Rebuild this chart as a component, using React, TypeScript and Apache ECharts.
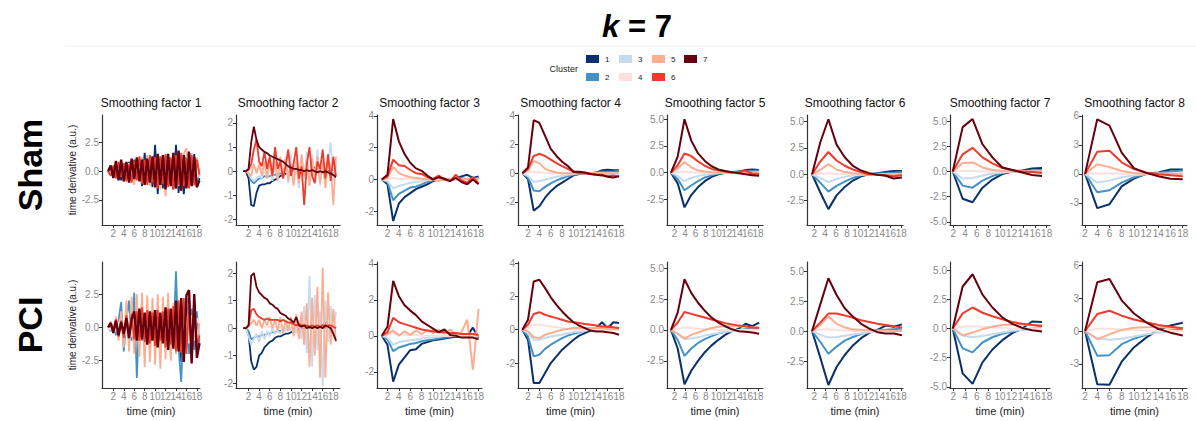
import React, { useEffect, useRef } from 'react';
import * as echarts from 'echarts';

// ---------------- data ----------------
const CLUSTERS = ['1', '2', '3', '4', '5', '6', '7'];
const COLORS = ['#08306b', '#4292c6', '#c6dbef', '#fde0dd', '#fcae91', '#ef3b2c', '#67000d'];
const ROW_NAMES = ['Sham', 'PCI'];
const PANEL_TITLES = [
  'Smoothing factor 1', 'Smoothing factor 2', 'Smoothing factor 3', 'Smoothing factor 4',
  'Smoothing factor 5', 'Smoothing factor 6', 'Smoothing factor 7', 'Smoothing factor 8',
];
const X_TICKS = [2, 4, 6, 8, 10, 12, 14, 16, 18];
const Y_TICKS = [
  [-2.5, 0, 2.5],
  [-2, -1, 0, 1, 2],
  [-2, 0, 2, 4],
  [-2, 0, 2, 4],
  [-2.5, 0, 2.5, 5],
  [-2.5, 0, 2.5, 5],
  [-5, -2.5, 0, 2.5, 5],
  [-3, 0, 3, 6],
];
const Y_TICK_DECIMALS = [1, 0, 0, 0, 1, 1, 1, 0];

// time points (min) for each smoothing factor
const X_SF1 = [1, 1.5, 2, 2.5, 3, 3.5, 4, 4.5, 5, 5.5, 6, 6.5, 7, 7.5, 8, 8.5, 9, 9.5, 10, 10.5, 11, 11.5, 12, 12.5, 13, 13.5, 14, 14.5, 15, 15.5, 16, 16.5, 17, 17.5, 18, 18.5];
const X_SF2 = [1, 1.5, 2, 2.5, 3, 3.5, 4, 4.5, 5, 5.5, 6, 6.5, 7, 7.5, 8, 8.5, 9, 9.5, 10, 10.5, 11, 11.5, 12, 12.5, 13, 13.5, 14, 14.5, 15, 15.5, 16, 16.5, 17, 17.5, 18, 18.5];
const X_SF3 = [1, 2, 3, 4, 5, 6, 7, 8, 9, 10, 11, 12, 13, 14, 15, 16, 17, 18];
const X_SF4 = [1, 2, 3, 4, 5, 6, 7, 8, 9, 10, 11, 12, 13, 14, 15, 16, 17, 18];
const X_SF5 = [1.3, 2.6, 3.9, 5.2, 6.5, 7.8, 9.1, 10.4, 11.7, 13, 14.3, 15.6, 16.9, 18.2];
const X_SF6 = [1.6, 3.1, 4.6, 6.1, 7.6, 9.1, 10.6, 12.1, 13.6, 15.1, 16.6, 18.1];
const X_SF7 = [1.9, 3.6, 5.3, 7, 8.7, 10.4, 12.1, 13.8, 15.5, 17.2];
const X_SF8 = [2, 4, 6, 8, 10, 12, 14, 16, 18];

// Sham: one row per cluster 1..7
const SHAM_SF1 = [
  [0, -0.3, 0.4, -0.6, 0.5, -0.8, 0.6, -0.7, 0.8, -0.9, 1.0, -0.6, 1.1, -1.3, 1.6, -1.0, 0.9, -1.4, 2.3, -2.0, 1.2, -1.5, 1.3, -1.2, 0.8, -1.6, 2.3, -1.9, 1.0, -2.0, 1.2, 1.7, -1.0, 1.5, -1.4, -0.6],
  [0, 0.2, -0.3, 0.3, -0.5, 0.4, -0.6, 0.5, -0.4, 0.7, -0.8, 0.6, -0.7, 0.8, -1.0, 0.9, -0.8, 1.0, -1.1, 0.8, -1.3, 1.0, -0.9, 1.1, -1.2, 0.9, -1.0, 1.2, -1.1, 0.8, -1.3, 1.0, -0.9, 1.1, -1.0, 0.2],
  [0, -0.2, 0.3, -0.4, 0.4, -0.5, 0.6, -0.4, 0.7, -0.6, 0.5, -0.8, 0.9, -0.7, 0.8, -1.0, 1.1, -0.9, 0.7, -1.2, 1.0, -0.8, 1.3, -1.1, 0.9, -1.0, 1.2, -1.3, 1.1, -0.9, 1.0, -1.2, 1.3, -0.8, 0.9, -0.5],
  [0, 0.3, -0.2, 0.4, -0.5, 0.3, -0.4, 0.6, -0.5, 0.4, -0.7, 0.6, -0.5, 0.7, -0.8, 0.6, -0.9, 0.8, -0.6, 0.9, -1.0, 0.7, -0.8, 1.0, -0.9, 0.8, -1.1, 0.9, -0.7, 1.0, -0.9, 0.8, -1.0, 0.7, -0.6, 0.3],
  [0, 0.4, -0.5, 0.6, -0.7, 0.5, -0.9, 0.8, -1.0, 0.7, -1.2, 1.0, -0.8, 1.2, -1.1, 1.4, -1.3, 1.1, -1.5, 1.3, -1.6, 1.2, -2.2, 1.4, -1.3, 1.6, -1.5, 1.3, -1.7, 1.5, 2.0, -1.4, 1.6, -1.3, 1.2, -0.4],
  [0, -0.4, 0.5, -0.6, 0.8, -0.5, 0.7, -0.9, 0.6, -1.0, 0.9, -0.8, 1.3, -1.1, 1.0, -1.2, 1.4, -1.0, 1.2, -1.5, 1.3, -1.1, 1.5, -1.4, 1.2, -1.6, 1.4, -1.2, 1.6, -1.3, 1.1, -1.5, 1.4, -1.2, 1.0, -0.3],
  [0, 0.5, -0.6, 0.9, -0.8, 1.0, -0.9, 0.8, -1.0, 1.1, -0.7, 1.2, -0.9, 1.0, -1.2, 1.1, -1.0, 1.3, -1.4, 1.5, -1.2, 1.4, -1.6, 1.5, -1.3, 1.6, -1.5, 1.8, -1.7, 1.4, -1.5, 1.6, -1.3, 1.2, -1.4, -0.8],
];
const SHAM_SF2 = [
  [0, 0, -0.3, -1.4, -1.45, -0.9, -0.6, -0.55, -0.55, -0.5, -0.5, -0.4, -0.35, -0.3, -0.2, -0.15, -0.1, -0.05, 0, 0, 0, 0, 0, 0, 0, 0.05, 0.1, 0.15, 0.1, 0.05, 0, 0, 0, -0.05, -0.1, -0.1],
  [0, 0, -0.1, -0.4, -0.5, -0.4, -0.3, -0.3, -0.2, -0.25, -0.2, -0.15, -0.15, -0.1, -0.1, -0.05, 0, -0.05, 0, 0.05, 0, 0, 0.05, 0, -0.05, 0, 0.05, 0, 0, 0.05, 0, -0.05, 0, 0, 0.05, 0],
  [0, 0, -0.1, -0.3, -0.4, -0.3, -0.2, -0.3, 0.1, -0.3, 0.2, -0.4, 0.3, -0.3, 0.5, -0.2, 0.6, -0.5, 0.7, -0.4, 0.5, -0.7, 0.6, -0.3, 0.8, -0.6, 0.7, -0.4, 0.9, -0.6, 0.5, -0.5, 0.3, 1.2, -0.4, 0.2],
  [0, 0, 0, 0.1, 0.2, 0.1, 0.05, 0.1, 0, 0.1, -0.05, 0.05, 0.1, -0.05, 0.05, 0.1, -0.05, 0.05, 0.1, -0.1, 0.05, 0.1, -0.05, 0.1, -0.1, 0.05, 0.1, -0.05, 0.1, -0.1, 0.05, 0.1, -0.1, 0.05, 0.1, 0],
  [0, 0, -0.1, -0.2, 0.3, -0.1, 0.3, -0.2, 0.4, -0.3, 0.5, -0.2, 0.4, -0.4, 0.6, -0.3, 0.5, -0.4, 0.3, -0.6, 0.4, -0.5, 0.7, -0.2, 0.4, -0.6, 0.5, -0.3, 0.6, -0.5, 0.4, -0.7, 0.5, 0.2, -1.4, 0.6],
  [0, 0, 0.05, 0.3, 0.9, 1.3, 0.4, 0.2, 0.8, 0.1, 0.6, -0.2, 1.0, 0.1, 0.4, -0.3, 0.2, 0.9, -0.2, 0.3, 1.0, -0.3, 0.2, -1.4, 0.3, 1.0, -0.2, -0.5, 0.4, 0.1, 0.9, -0.3, 0.7, -0.4, 0.6, -0.2],
  [0, 0, 0.1, 1.2, 1.85, 1.3, 1.0, 0.9, 0.8, 0.75, 0.65, 0.6, 0.55, 0.5, 0.45, 0.4, 0.3, 0.2, 0.15, 0.1, 0.1, 0.05, 0.05, 0, 0.05, 0, 0.05, 0, -0.05, 0, -0.05, 0, -0.05, -0.1, -0.15, -0.25],
];
const SHAM_SF3 = [
  [0, -0.3, -2.6, -1.5, -1.1, -0.85, -0.6, -0.45, -0.3, -0.1, 0, 0.05, 0, 0.1, 0.2, 0.3, 0.1, 0.2],
  [0, -0.15, -1.3, -0.9, -0.7, -0.5, -0.45, -0.3, -0.15, -0.05, 0, 0, 0.05, 0, 0.1, 0, 0.05, 0.1],
  [0, -0.1, -0.55, -0.4, -0.3, -0.2, -0.15, -0.1, -0.05, 0, 0, 0, 0, 0, 0, 0.05, 0, 0],
  [0, 0.02, 0.1, 0.05, 0.05, 0.02, 0, 0, 0, 0, 0, 0, 0, 0, 0, 0, 0, 0],
  [0, 0.1, 0.8, 0.4, 0.25, 0.15, 0.1, 0.05, 0, 0, -0.1, 0.05, 0, 0.1, 0, 0.05, 0, 0],
  [0, 0.2, 1.25, 0.9, 0.85, 0.6, 0.4, 0.35, 0.15, 0.05, 0.25, 0, -0.1, 0.3, -0.05, -0.2, 0.15, -0.25],
  [0, 0.3, 3.8, 2.4, 1.6, 1.05, 0.7, 0.55, 0.25, 0, 0.15, 0.05, -0.1, 0.1, -0.15, -0.3, 0, -0.3],
];
const SHAM_SF4 = [
  [0, -0.4, -2.6, -2.3, -1.7, -1.25, -0.9, -0.65, -0.4, -0.15, -0.05, 0, 0, 0.05, 0.2, 0.25, 0.2, 0.2],
  [0, -0.3, -1.2, -1.25, -0.95, -0.7, -0.5, -0.35, -0.2, -0.1, -0.05, 0, 0, 0.05, 0.1, 0.1, 0.1, 0.15],
  [0, -0.2, -0.6, -0.55, -0.45, -0.35, -0.25, -0.2, -0.1, -0.05, 0, 0, 0, 0, 0, 0, 0, 0],
  [0, 0.05, 0.1, 0.05, 0.02, 0, 0, 0, 0, 0, 0, 0, 0, 0, 0, 0, 0, 0],
  [0, 0.2, 0.85, 0.7, 0.3, 0.15, 0.05, 0, 0, 0, 0, 0, 0, 0, 0, 0, 0, 0],
  [0, 0.3, 1.2, 1.35, 1.2, 0.95, 0.7, 0.5, 0.3, 0.1, 0, 0, -0.05, -0.1, -0.1, -0.2, -0.15, -0.25],
  [0, 0.4, 3.7, 3.5, 2.6, 1.7, 1.2, 0.8, 0.5, 0.1, 0.1, 0.05, -0.05, -0.1, -0.15, -0.25, -0.3, -0.2],
];
const SHAM_SF5 = [
  [0, -1.0, -3.25, -2.1, -1.35, -0.8, -0.4, -0.15, 0, 0.05, 0.1, 0.25, 0.3, 0.25],
  [0, -0.6, -1.65, -1.2, -0.8, -0.45, -0.25, -0.05, 0, 0.05, 0.1, 0.15, 0.15, 0.2],
  [0, -0.3, -0.8, -0.5, -0.3, -0.2, -0.1, -0.05, 0, 0, 0, 0, 0, 0],
  [0, 0.05, 0.1, 0.05, 0, 0, 0, 0, 0, 0, 0, 0, 0, 0],
  [0, 0.4, 1.0, 0.5, 0.2, 0.1, 0.05, 0, 0, 0, 0, 0, 0, 0],
  [0, 0.7, 1.8, 1.55, 1.05, 0.65, 0.35, 0.2, 0.1, 0, 0.05, 0.2, -0.1, -0.15],
  [0, 1.5, 5.0, 3.0, 1.8, 1.1, 0.6, 0.3, 0.15, 0.05, -0.05, -0.15, -0.25, -0.3],
];
const SHAM_SF6 = [
  [0, -1.7, -3.3, -2.0, -1.2, -0.6, -0.2, 0, 0.1, 0.2, 0.3, 0.3],
  [0, -0.8, -1.65, -1.1, -0.7, -0.35, -0.1, 0, 0.05, 0.1, 0.15, 0.2],
  [0, -0.35, -0.75, -0.45, -0.25, -0.1, -0.05, 0, 0, 0, 0, 0],
  [0, 0.05, 0.1, 0.05, 0, 0, 0, 0, 0, 0, 0, 0],
  [0, 0.4, 0.95, 0.45, 0.2, 0.1, 0.05, 0, 0, 0, 0, 0],
  [0, 1.2, 2.1, 1.3, 0.8, 0.45, 0.2, 0, -0.05, -0.1, -0.2, -0.1],
  [0, 3.0, 5.2, 2.8, 1.6, 0.8, 0.35, 0.1, -0.05, -0.15, -0.4, -0.3],
];
const SHAM_SF7 = [
  [0, -2.7, -3.05, -1.6, -0.8, -0.25, 0, 0.1, 0.3, 0.35],
  [0, -1.4, -1.6, -0.9, -0.45, -0.15, 0, 0.05, 0.1, 0.15],
  [0, -0.7, -0.65, -0.4, -0.2, -0.1, 0, 0, 0, 0],
  [0, 0.05, 0.05, 0, 0, 0, 0, 0, 0, 0],
  [0, 0.85, 0.9, 0.4, 0.15, 0.05, 0, 0, 0, 0],
  [0, 1.7, 2.35, 1.4, 0.8, 0.35, 0.15, 0, -0.05, -0.15],
  [0, 4.4, 5.2, 2.7, 1.4, 0.4, 0.15, -0.1, -0.35, -0.45],
];
const SHAM_SF8 = [
  [0, -3.55, -3.15, -1.3, -0.5, 0, 0.15, 0.45, 0.45],
  [0, -1.9, -1.7, -0.9, -0.35, -0.05, 0.1, 0.25, 0.35],
  [0, -0.9, -0.7, -0.35, -0.15, -0.05, 0, 0, 0],
  [0, 0.05, 0.05, 0, 0, 0, 0, 0, 0],
  [0, 1.0, 0.7, 0.3, 0.1, 0, 0, 0, 0],
  [0, 2.3, 2.4, 1.2, 0.5, 0.15, -0.05, -0.15, -0.25],
  [0, 5.65, 5.0, 2.2, 0.6, 0.1, -0.25, -0.5, -0.55],
];

// PCI
const PCI_SF1 = [
  [0, 0.2, -0.3, 0.4, -0.5, 0.3, -0.6, 0.5, -0.4, 0.6, -0.7, 0.5, -0.6, 0.8, -0.7, 0.6, -0.9, 0.7, -0.8, 1.0, -0.9, 0.8, -1.1, 1.0, -1.2, 1.3, -1.4, 1.6, -2.6, 1.8, -1.5, 2.2, -2.4, 1.9, -1.6, -0.9],
  [0, -0.3, 0.3, -0.6, 0.5, 1.9, -1.8, 0.6, 2.0, -1.0, 2.6, -3.8, 1.2, -1.0, 0.8, -0.9, 1.1, -0.8, 0.9, -1.2, 1.0, -0.9, 1.3, -1.1, 1.2, -1.0, 4.2, -1.5, -4.1, 1.0, 2.2, -2.0, 1.4, -1.7, 1.2, -1.3],
  [0, 0.2, -0.4, 0.5, -0.6, 0.7, -0.5, 0.8, -0.9, 0.7, -1.0, 0.9, -0.8, 1.1, -1.0, 0.9, -1.2, 1.0, -1.1, 1.3, -1.2, 1.1, -1.4, 1.2, -1.3, 1.5, -1.4, 1.6, -1.5, 1.3, -1.6, 1.4, -1.2, 1.5, -1.3, -0.6],
  [0, -0.2, 0.3, -0.3, 0.4, -0.5, 0.4, -0.6, 0.5, -0.7, 0.6, -0.5, 0.7, -0.8, 0.6, -0.7, 0.9, -0.8, 0.7, -1.0, 0.8, -0.9, 1.0, -0.8, 0.9, -1.1, 1.0, -0.9, 1.1, -1.0, 0.8, -1.2, 0.9, -1.0, 0.7, 0.2],
  [0, 0.3, -0.5, 0.8, -1.0, 1.2, -1.5, 2.0, -1.8, 2.3, -2.0, 2.5, -2.2, 2.6, -3.0, 2.4, -2.6, 2.2, -2.8, 2.5, -3.1, 2.3, -2.4, 2.6, -2.5, 1.8, -2.0, 1.6, -1.8, 1.5, -1.2, 1.4, -1.3, 1.0, -1.1, 0.3],
  [0, 0.4, -0.3, 0.6, -0.7, 0.5, -0.8, 0.9, -0.6, 1.0, -0.9, 1.2, -1.0, 1.5, -1.1, 1.3, -1.2, 1.1, -1.4, 1.3, -1.0, 1.2, -1.5, 1.4, -1.3, 1.6, -1.8, 2.0, -1.9, 2.2, -2.0, 1.8, -2.1, 1.9, -1.5, -0.6],
  [0, 0.3, -0.4, 0.5, -0.6, 0.4, -0.5, 0.7, -0.8, 0.6, 1.2, -1.0, 1.4, -0.9, 1.1, -1.3, 1.2, -1.0, 1.3, -1.5, 1.1, -1.2, 1.5, -1.7, 1.4, -1.6, 2.0, -1.8, 2.2, -2.6, 2.4, 2.8, -2.7, 2.5, -2.3, -1.2],
];
const PCI_SF2 = [
  [0, 0, -0.2, -1.2, -1.5, -1.4, -1.0, -0.9, -0.7, -0.6, -0.5, -0.45, -0.35, -0.3, -0.3, -0.25, -0.2, -0.2, -0.15, -0.1, -0.1, -0.05, 0, 0, 0, 0, 0, 0.05, 0.05, 0.1, 0.1, 0.2, 0.1, 0.05, 0.05, 0],
  [0, 0, -0.1, -0.4, -0.35, -0.3, -0.3, -0.25, -0.25, -0.2, -0.2, -0.15, -0.15, -0.1, -0.1, -0.1, -0.05, -0.05, 0, 0, 0.05, 0, 0, 0.05, 0, 0, 0.05, 0, 0, 0.05, 0, 0, 0.05, 0, 0, 0],
  [0, 0, -0.3, -0.6, -0.4, -0.2, -0.5, -0.1, -0.4, -0.1, -0.3, 0, -0.2, -0.1, -0.2, 0, -0.1, 0.1, -0.1, 0.2, -0.2, 0.3, -0.4, 0.8, -0.9, 1.9, -1.4, 1.2, -0.8, 0.6, -2.1, 1.0, -0.5, 0.8, -0.2, 0.6],
  [0, 0, 0.05, 0.2, 0.15, 0.1, 0.1, 0.1, 0.05, 0.05, 0.05, 0.05, 0.05, 0.05, 0.05, 0.05, 0.05, 0.05, 0.05, 0.05, 0.05, 0.05, 0.05, 0.05, 0.05, 0.05, 0.05, 0.05, 0.05, 0.05, 0.05, 0.05, 0.05, 0.05, 0.05, 0.05],
  [0, 0, 0.05, 0.2, 0.3, 0.1, 0.3, 0, 0.3, 0.1, 0.4, 0, 0.3, -0.1, 0.4, -0.2, 0.3, -0.1, 0.4, -0.3, 0.5, -0.4, 0.6, -0.6, 0.9, -1.4, 1.1, -1.0, 1.5, -1.8, 2.2, -1.8, 1.3, -0.6, 0.7, -0.5],
  [0, 0, 0.1, 0.65, 0.7, 0.5, 0.4, 0.35, 0.3, 0.35, 0.3, 0.3, 0.3, 0.3, 0.25, 0.3, 0.25, 0.2, 0.2, 0.15, 0.1, 0.15, 0.1, 0.1, 0.1, 0.05, 0.1, 0.05, 0.1, 0.05, 0.1, 0.05, 0.1, 0.1, 0.05, 0],
  [0, 0, 0.1, 1.9, 2.0, 1.5, 1.3, 1.2, 1.1, 1.05, 0.9, 0.85, 0.75, 0.7, 0.55, 0.5, 0.45, 0.35, 0.3, 0.2, 0.4, 0.1, 0.05, 0.1, 0, 0.05, 0, 0.05, 0, 0.05, 0, 0.1, 0.05, 0, -0.2, -0.45],
];
const PCI_SF3 = [
  [0, -0.5, -2.55, -1.6, -1.2, -0.8, -0.75, -0.45, -0.35, -0.25, -0.2, -0.15, -0.1, -0.05, -0.05, 0, 0.45, -0.1],
  [0, -0.2, -0.85, -0.65, -0.55, -0.45, -0.4, -0.3, -0.25, -0.2, -0.15, -0.1, -0.05, 0, 0, 0, 0.05, 0],
  [0, -0.1, -0.5, -0.35, -0.3, -0.25, -0.2, -0.15, -0.1, -0.1, -0.05, 0, 0, 0, 0, 0, 0.1, 0],
  [0, 0.05, 0.15, 0.1, 0.05, 0.05, 0.05, 0, 0, 0, 0, 0, 0, 0, 0, 0, 0, 0],
  [0, 0.1, 0.3, 0, 0.25, 0.05, 0.3, 0.1, 0.3, 0.15, 0.35, 0.1, 0.35, 0.1, 0.2, 0.9, -1.9, 1.5],
  [0, 0.2, 1.0, 0.75, 0.65, 0.55, 0.45, 0.35, 0.3, 0.25, 0.2, 0.2, 0.15, 0.15, 0.1, 0.1, 0.1, 0.05],
  [0, 0.5, 3.05, 2.2, 1.7, 1.4, 1.15, 0.8, 0.6, 0.4, 0.2, 0.35, 0.05, 0, -0.1, -0.1, -0.1, -0.2],
];
const PCI_SF4 = [
  [0, -0.6, -3.2, -3.2, -2.6, -2.0, -1.6, -1.2, -0.9, -0.6, -0.35, -0.2, -0.05, 0.1, 0.45, 0.1, 0.45, 0.4],
  [0, -0.4, -1.6, -1.5, -1.15, -0.9, -0.7, -0.5, -0.35, -0.25, -0.15, -0.05, 0, 0, 0.05, 0.1, 0.1, 0.1],
  [0, -0.2, -0.6, -0.6, -0.5, -0.4, -0.35, -0.3, -0.2, -0.15, -0.1, -0.05, 0, 0, 0, 0, 0, 0],
  [0, 0.1, 0.3, 0.3, 0.25, 0.2, 0.15, 0.1, 0.05, 0, 0, 0, 0, 0, 0, 0, 0, 0],
  [0, -0.1, -0.45, -0.5, -0.3, -0.2, -0.1, 0, 0.05, 0.1, 0.1, 0.1, 0.1, 0.1, 0.1, 0.05, 0.05, 0.05],
  [0, 0.3, 0.95, 1.05, 0.9, 0.8, 0.7, 0.6, 0.5, 0.45, 0.4, 0.35, 0.3, 0.25, 0.2, 0.2, 0.15, 0.1],
  [0, 0.6, 2.9, 3.0, 2.5, 1.95, 1.5, 1.1, 0.75, 0.45, 0.25, 0.1, -0.05, -0.1, -0.1, -0.15, -0.2, -0.3],
];
const PCI_SF5 = [
  [0, -1.5, -4.4, -3.3, -2.5, -1.8, -1.25, -0.8, -0.4, -0.1, 0.1, 0.5, 0.3, 0.6],
  [0, -0.8, -2.1, -1.5, -1.05, -0.75, -0.5, -0.3, -0.15, -0.05, 0, 0.05, 0.1, 0.1],
  [0, -0.3, -0.75, -0.7, -0.6, -0.45, -0.35, -0.25, -0.15, -0.1, -0.05, 0, 0, 0],
  [0, 0.1, 0.2, 0.15, 0.1, 0.05, 0.05, 0, 0, 0, 0, 0, 0, 0],
  [0, -0.3, -0.7, -0.4, -0.2, 0, 0.15, 0.25, 0.3, 0.3, 0.3, 0.25, 0.2, 0.2],
  [0, 0.6, 1.45, 1.3, 1.15, 1.0, 0.85, 0.7, 0.55, 0.45, 0.35, 0.3, 0.2, 0.15],
  [0, 1.4, 4.1, 3.0, 2.2, 1.55, 1.0, 0.6, 0.3, 0.05, -0.1, -0.15, -0.2, -0.3],
];
const PCI_SF6 = [
  [0, -2.2, -4.5, -3.0, -2.0, -1.2, -0.6, -0.15, 0.1, 0.45, 0.35, 0.55],
  [0, -0.9, -1.9, -1.3, -0.8, -0.5, -0.25, -0.05, 0.05, 0.1, 0.15, 0.2],
  [0, -0.3, -0.55, -0.5, -0.4, -0.3, -0.2, -0.1, -0.05, 0, 0, 0],
  [0, 0.1, 0.15, 0.1, 0.05, 0, 0, 0, 0, 0, 0, 0],
  [0, 0.5, 1.2, 0.6, 0.3, 0.15, 0.1, 0.05, 0.05, 0.05, 0, 0],
  [0, 0.7, 1.45, 1.45, 1.3, 1.1, 0.9, 0.75, 0.6, 0.5, 0.4, 0.3],
  [0, 2.2, 4.4, 3.0, 1.9, 1.2, 0.6, 0.2, -0.1, -0.2, -0.2, -0.35],
];
const PCI_SF7 = [
  [0, -3.85, -4.75, -2.9, -1.8, -1.0, -0.4, 0, 0.6, 0.55],
  [0, -1.7, -2.05, -1.2, -0.75, -0.45, -0.25, -0.1, 0, 0.05],
  [0, -0.6, -0.75, -0.65, -0.5, -0.35, -0.2, -0.1, -0.05, 0],
  [0, 0.15, 0.2, 0.15, 0.1, 0.05, 0, 0, 0, 0],
  [0, -0.6, -0.35, -0.05, 0.15, 0.3, 0.35, 0.35, 0.3, 0.3],
  [0, 1.3, 1.8, 1.35, 1.05, 0.8, 0.55, 0.4, 0.3, 0.2],
  [0, 3.6, 4.65, 2.9, 1.8, 0.95, 0.4, 0.05, -0.15, -0.25],
];
const PCI_SF8 = [
  [0, -4.85, -4.9, -2.8, -1.5, -0.6, 0.1, 0.5, 0.75],
  [0, -2.25, -2.2, -1.2, -0.7, -0.35, -0.1, 0.05, 0.15],
  [0, -0.65, -0.8, -0.7, -0.5, -0.3, -0.15, -0.05, 0],
  [0, 0.2, 0.2, 0.15, 0.1, 0.05, 0, 0, 0],
  [0, -0.75, -0.3, 0.1, 0.3, 0.35, 0.35, 0.3, 0.25],
  [0, 1.55, 1.85, 1.4, 1.05, 0.8, 0.55, 0.4, 0.25],
  [0, 4.45, 4.75, 2.8, 1.6, 0.8, 0.2, -0.15, -0.4],
];

const X_BY_SF = [X_SF1, X_SF2, X_SF3, X_SF4, X_SF5, X_SF6, X_SF7, X_SF8];
const DATA_BY_ROW = [
  [SHAM_SF1, SHAM_SF2, SHAM_SF3, SHAM_SF4, SHAM_SF5, SHAM_SF6, SHAM_SF7, SHAM_SF8],
  [PCI_SF1, PCI_SF2, PCI_SF3, PCI_SF4, PCI_SF5, PCI_SF6, PCI_SF7, PCI_SF8],
];

// ---------------- layout ----------------
const COL_LEFT = [102, 236, 377, 518, 667, 807, 950, 1082];
const COL_RIGHT = [200, 340, 482, 623, 763, 903, 1050, 1187];
const ROW_TOP = [115, 262];
const ROW_BOTTOM = [225, 388];
const X_MIN = [-0.17, -0.37, 0.16, 0.24, 0.55, 0.67, 1.43, 1.5];
const X_MAX = [18.6, 19.26, 18.6, 18.7, 18.95, 18.3, 18.57, 18.7];
const Y_MIN = [
  [-4.7, -2.23, -2.85, -3.6, -4.9, -4.8, -5.3, -5.3],
  [-4.55, -2.17, -2.9, -3.5, -4.7, -4.75, -5.1, -5.2],
];
const Y_MAX = [
  [4.9, 2.33, 4.05, 4.05, 5.4, 5.6, 5.6, 6.1],
  [4.9, 2.4, 4.1, 4.07, 5.5, 5.75, 5.7, 6.3],
];

const FONT = "'Liberation Sans', Arial, Helvetica, sans-serif";
const AXIS_COLOR = '#333333';
const TICK_LABEL_COLOR = '#8a8a8a';

function buildOption() {
  const grids: any[] = [];
  const xAxes: any[] = [];
  const yAxes: any[] = [];
  const series: any[] = [];
  const graphics: any[] = [];

  for (let r = 0; r < 2; r++) {
    for (let c = 0; c < 8; c++) {
      const idx = r * 8 + c;
      grids.push({
        left: COL_LEFT[c],
        top: ROW_TOP[r],
        width: COL_RIGHT[c] - COL_LEFT[c],
        height: ROW_BOTTOM[r] - ROW_TOP[r],
        containLabel: false,
        outerBoundsMode: 'none',
      });
      // blank sentinel labels at both ends are hidden (showMin/MaxLabel false),
      // so that ECharts never drops the real 2 / 16 / 18 labels for touching.
      const lo = X_MIN[c] + 0.001;
      const hi = X_MAX[c] - 0.001;
      xAxes.push({
        type: 'value',
        gridIndex: idx,
        min: X_MIN[c],
        max: X_MAX[c],
        axisLine: { show: true, onZero: false, lineStyle: { color: AXIS_COLOR, width: 1.2 } },
        axisTick: { show: true, customValues: X_TICKS, length: 3, lineStyle: { color: AXIS_COLOR } },
        axisLabel: {
          customValues: [lo, ...X_TICKS, hi],
          formatter: (v: number) => (X_TICKS.indexOf(v) >= 0 ? String(v) : ' '),
          color: TICK_LABEL_COLOR,
          fontSize: 10,
          margin: 3,
          fontFamily: FONT,
          hideOverlap: false,
          showMinLabel: false,
          showMaxLabel: false,
        },
        splitLine: { show: false },
        name: r === 1 ? 'time (min)' : '',
        nameLocation: 'middle',
        nameGap: 17,
        nameTextStyle: { fontSize: 11, color: '#222', fontFamily: FONT },
      });
      const dec = Y_TICK_DECIMALS[c];
      yAxes.push({
        type: 'value',
        gridIndex: idx,
        min: Y_MIN[r][c],
        max: Y_MAX[r][c],
        axisLine: { show: true, onZero: false, lineStyle: { color: AXIS_COLOR, width: 1.2 } },
        axisTick: { show: true, customValues: Y_TICKS[c], length: 3, lineStyle: { color: AXIS_COLOR } },
        axisLabel: {
          customValues: Y_TICKS[c],
          formatter: (v: number) => v.toFixed(dec),
          color: TICK_LABEL_COLOR,
          fontSize: 10,
          margin: 3,
          fontFamily: FONT,
          hideOverlap: false,
          showMinLabel: true,
          showMaxLabel: true,
        },
        splitLine: { show: false },
        name: c === 0 ? 'time derivative (a.u.)' : '',
        nameLocation: 'middle',
        nameRotate: 90,
        nameGap: 24,
        nameTextStyle: { fontSize: 10, color: '#222', fontFamily: FONT },
      });
      const xs = X_BY_SF[c];
      const rows = DATA_BY_ROW[r][c];
      rows.forEach((vals, k) => {
        const lw = c === 0 ? (k === 6 ? 2.4 : 1.8) : c === 1 ? 1.8 : 2;
        series.push({
          type: 'line',
          name: CLUSTERS[k],
          xAxisIndex: idx,
          yAxisIndex: idx,
          data: xs.map((x, i) => [x, vals[i]]),
          symbol: 'none',
          showSymbol: false,
          lineStyle: { color: COLORS[k], width: lw },
          itemStyle: { color: COLORS[k] },
          silent: true,
          clip: true,
        });
      });
    }
  }

  // panel titles
  PANEL_TITLES.forEach((t, c) => {
    graphics.push({
      type: 'text',
      x: (COL_LEFT[c] + COL_RIGHT[c]) / 2,
      y: 103,
      style: { text: t, fontSize: 12, fontFamily: FONT, fill: '#111', align: 'center', verticalAlign: 'middle' },
    });
  });

  // row labels
  const rowCenters = [165, 325];
  ROW_NAMES.forEach((n, r) => {
    graphics.push({
      type: 'text',
      x: 30,
      y: rowCenters[r],
      rotation: Math.PI / 2,
      style: {
        text: n,
        fontSize: 34,
        fontWeight: 'bold',
        fontFamily: FONT,
        fill: '#000',
        align: 'center',
        verticalAlign: 'middle',
      },
    });
  });

  // main title
  graphics.push({
    type: 'text',
    x: 637,
    y: 26,
    style: {
      text: '{k|k}{e| = 7}',
      align: 'center',
      verticalAlign: 'middle',
      rich: {
        k: { fontSize: 31, fontWeight: 'bold', fontStyle: 'italic', fontFamily: FONT, fill: '#000', color: '#000' },
        e: { fontSize: 31, fontWeight: 'bold', fontFamily: FONT, fill: '#000', color: '#000' },
      },
    },
  });

  // faint separator
  graphics.push({
    type: 'line',
    shape: { x1: 65, y1: 46, x2: 1196, y2: 46 },
    style: { stroke: '#efefef', lineWidth: 1 },
  });

  // legend
  graphics.push({
    type: 'text',
    x: 578,
    y: 69,
    style: { text: 'Cluster', fontSize: 9, fontFamily: FONT, fill: '#222', align: 'right', verticalAlign: 'middle' },
  });
  const legColX = [586, 619, 652, 684];
  const legRowY = [59, 77];
  CLUSTERS.forEach((name, i) => {
    const cx = legColX[Math.floor(i / 2)];
    const cy = legRowY[i % 2];
    graphics.push({
      type: 'rect',
      shape: { x: cx, y: cy - 4, width: 13, height: 8 },
      style: { fill: COLORS[i] },
    });
    graphics.push({
      type: 'text',
      x: cx + 19,
      y: cy,
      style: { text: name, fontSize: 8, fontFamily: FONT, fill: '#222', align: 'left', verticalAlign: 'middle' },
    });
  });

  return {
    animation: false,
    backgroundColor: '#ffffff',
    grid: grids,
    xAxis: xAxes,
    yAxis: yAxes,
    series,
    graphic: graphics,
  };
}

export default function App() {
  const ref = useRef<HTMLDivElement>(null);
  useEffect(() => {
    if (!ref.current) return;
    const chart = echarts.init(ref.current, undefined, { renderer: 'svg' });
    chart.setOption(buildOption() as any);
    return () => {
      chart.dispose();
    };
  }, []);
  return (
    <div
      ref={ref}
      style={{ position: 'absolute', left: 0, top: 0, width: 1196, height: 421, background: '#fff' }}
    />
  );
}
